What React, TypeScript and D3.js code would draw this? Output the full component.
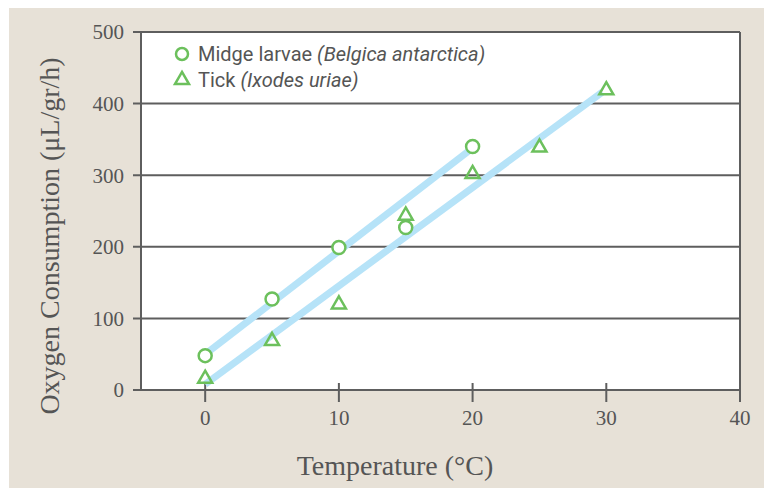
import React, {useEffect, useRef} from 'react'
import * as d3 from 'd3'

const midgeX = [0, 5, 10, 15, 20]
const midgeY = [48, 127, 199, 227, 340]
const tickX = [0, 5, 10, 15, 20, 25, 30]
const tickY = [17, 70, 121, 245, 303, 340, 420]
// fitted line end points
const midgeFit = [[0, 50], [20, 338]]
const tickFit = [[0, 8], [29.7, 416]]
const xTicks = [0, 10, 20, 30, 40]
const yTicks = [0, 100, 200, 300, 400, 500]

const W = 764, H = 489
const plot = {left: 141, right: 740, top: 32, bottom: 390}
const bg = '#e7e1d7'
const axisColor = '#5e5e5e'
const textColor = '#555555'
const green = '#6cc05c'
const blue = '#b6e3f8'
const serif = '"Liberation Serif", "DejaVu Serif", serif'
const sans = '"Liberation Sans Narrow", "Roboto", "Liberation Sans", sans-serif'

function Chart() {
  const ref = useRef<SVGSVGElement>(null)

  useEffect(() => {
    const svg = d3.select(ref.current)
    svg.selectAll('*').remove()

    const x = d3.scaleLinear().domain([-4.8, 40]).range([plot.left, plot.right])
    const y = d3.scaleLinear().domain([0, 500]).range([plot.bottom, plot.top])

    svg.append('rect').attr('x', 9).attr('y', 8).attr('width', W - 9).attr('height', 480).attr('fill', bg)
    svg.append('rect')
      .attr('x', plot.left).attr('y', plot.top)
      .attr('width', plot.right - plot.left).attr('height', plot.bottom - plot.top)
      .attr('fill', '#fff')

    // gridlines + y ticks
    const gy = svg.append('g')
    gy.selectAll('line.grid').data(yTicks).join('line')
      .attr('x1', plot.left - 8).attr('x2', plot.right)
      .attr('y1', d => y(d)).attr('y2', d => y(d))
      .attr('stroke', axisColor).attr('stroke-width', 2)
    gy.selectAll('text').data(yTicks).join('text')
      .attr('x', 124).attr('y', d => y(d)).attr('dy', '0.35em')
      .attr('text-anchor', 'end')
      .attr('font-family', serif).attr('font-size', 21).attr('fill', textColor)
      .text(d => d)

    // vertical borders
    svg.append('line').attr('x1', plot.left).attr('x2', plot.left)
      .attr('y1', plot.top).attr('y2', plot.bottom)
      .attr('stroke', axisColor).attr('stroke-width', 2)
    svg.append('line').attr('x1', plot.right).attr('x2', plot.right)
      .attr('y1', plot.top).attr('y2', plot.bottom + 12)
      .attr('stroke', axisColor).attr('stroke-width', 2)

    // x ticks
    const gx = svg.append('g')
    gx.selectAll('line').data(xTicks).join('line')
      .attr('x1', d => x(d)).attr('x2', d => x(d))
      .attr('y1', plot.bottom - 7).attr('y2', plot.bottom + 12)
      .attr('stroke', axisColor).attr('stroke-width', 2)
    gx.selectAll('text').data(xTicks).join('text')
      .attr('x', d => x(d)).attr('y', 425)
      .attr('text-anchor', 'middle')
      .attr('font-family', serif).attr('font-size', 21).attr('fill', textColor)
      .text(d => d)

    // fit lines
    const line = d3.line<number[]>().x(d => x(d[0])).y(d => y(d[1]))
    ;[midgeFit, tickFit].forEach(f => {
      svg.append('path').attr('d', line(f)).attr('stroke', blue)
        .attr('stroke-width', 7).attr('fill', 'none')
    })

    // markers
    svg.append('g').selectAll('circle').data(midgeX).join('circle')
      .attr('cx', d => x(d)).attr('cy', (d, i) => y(midgeY[i])).attr('r', 6.5)
      .attr('fill', '#fff').attr('stroke', green).attr('stroke-width', 2.5)

    const tri = d3.symbol().type(d3.symbolTriangle).size(85)
    svg.append('g').selectAll('path').data(tickX).join('path')
      .attr('d', tri)
      .attr('transform', (d, i) => `translate(${x(d)},${y(tickY[i]) + 1})`)
      .attr('fill', 'none').attr('stroke', green).attr('stroke-width', 2.5)

    // legend
    const lg = svg.append('g')
    lg.append('circle').attr('cx', 182).attr('cy', 54).attr('r', 6)
      .attr('fill', '#fff').attr('stroke', green).attr('stroke-width', 2.5)
    lg.append('path').attr('d', tri).attr('transform', 'translate(182,80)')
      .attr('fill', 'none').attr('stroke', green).attr('stroke-width', 2.5)
    const entries = [['Midge larvae ', 'Belgica antarctica', 61], ['Tick ', 'Ixodes uriae', 87]]
    entries.forEach(e => {
      const t = lg.append('text').attr('x', 198).attr('y', e[2] as number)
        .attr('font-family', sans).attr('font-size', 20).attr('fill', textColor)
      t.append('tspan').text(e[0] as string)
      t.append('tspan').attr('font-style', 'italic').text(`(${e[1]})`)
    })

    // axis titles
    svg.append('text').attr('x', 395).attr('y', 475).attr('text-anchor', 'middle')
      .attr('font-family', serif).attr('font-size', 28).attr('fill', textColor)
      .text('Temperature (°C)')
    svg.append('text').attr('transform', 'translate(59,236) rotate(-90)')
      .attr('text-anchor', 'middle')
      .attr('font-family', serif).attr('font-size', 28).attr('fill', textColor)
      .text('Oxygen Consumption (μL/gr/h)')
  }, [])

  return <svg ref={ref} width={W} height={H} style={{position: 'absolute', left: 0, top: 0}} />
}

export default function App() {
  return <Chart />
}
